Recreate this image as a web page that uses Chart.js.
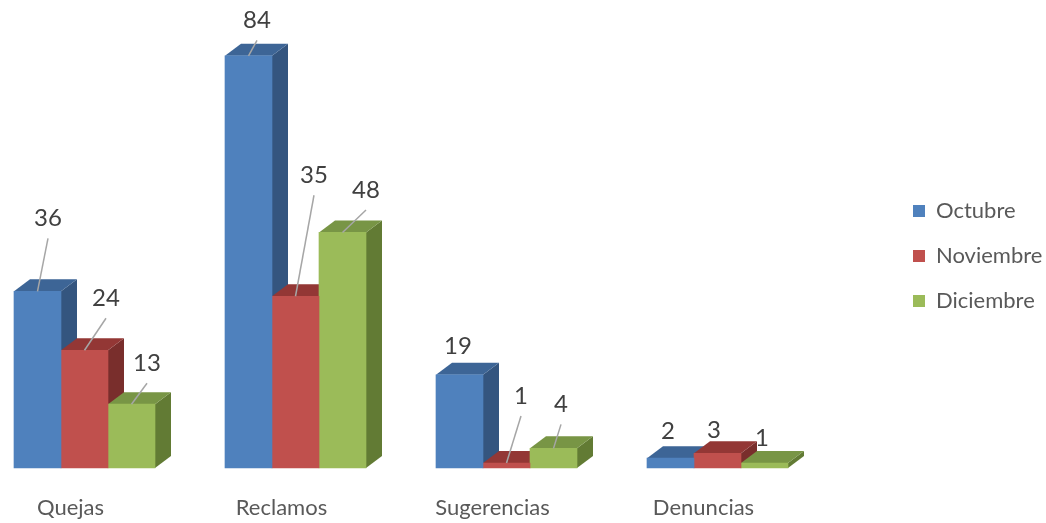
<!DOCTYPE html>
<html>
<head>
<meta charset="utf-8">
<script src="https://cdn.jsdelivr.net/npm/chart.js@4"></script>
<style>
  html, body { margin: 0; padding: 0; background: #ffffff; }
</style>
</head>
<body>
<canvas id="chart" width="1046" height="523"></canvas>
<script>
const categories = ["Quejas", "Reclamos", "Sugerencias", "Denuncias"];
const seriesNames = ["Octubre", "Noviembre", "Diciembre"];
const octubre = [36, 84, 19, 2];
const noviembre = [24, 35, 1, 3];
const diciembre = [13, 48, 4, 1];

// where each value label was dragged to, relative to the top of its bar
const labelOffsets = [
    [[10.5, -73], [8.5, -35.5], [-1.5, -28], [-2.5, -27]],
    [[21.5, -52], [18.5, -121], [14.5, -67], [-3.5, -23]],
    [[15.5, -41], [23.5, -42.5], [7.5, -44], [-2.5, -25]]
];

const frontColors = ["#4F81BD", "#C0504D", "#9BBB59"];
const topColors = ["#3D6596", "#933735", "#789545"];
const sideColors = ["#34557F", "#792E2C", "#627B34"];
const depthX = 16;
const depthY = 12;

Chart.defaults.font.family = "Lato";

const bars3d = {
    id: "bars3d",
    beforeDatasetsDraw(chart) {
        const ctx = chart.ctx;
        const bars = [];
        chart.data.datasets.forEach((ds, i) => {
            chart.getDatasetMeta(i).data.forEach(bar => bars.push({ bar, i }));
        });
        bars.sort((a, b) => a.bar.x - b.bar.x);
        ctx.save();
        for (const { bar, i } of bars) {
            const x1 = bar.x - bar.width / 2;
            const x2 = bar.x + bar.width / 2;
            const y = bar.y;
            const base = bar.base;
            ctx.fillStyle = sideColors[i];
            ctx.beginPath();
            ctx.moveTo(x2, y);
            ctx.lineTo(x2 + depthX, y - depthY);
            ctx.lineTo(x2 + depthX, base - depthY);
            ctx.lineTo(x2, base);
            ctx.closePath();
            ctx.fill();
            ctx.fillStyle = topColors[i];
            ctx.beginPath();
            ctx.moveTo(x1, y);
            ctx.lineTo(x1 + depthX, y - depthY);
            ctx.lineTo(x2 + depthX, y - depthY);
            ctx.lineTo(x2, y);
            ctx.closePath();
            ctx.fill();
        }
        ctx.restore();
    },
    afterDatasetsDraw(chart) {
        const ctx = chart.ctx;
        ctx.save();
        ctx.font = "24px Lato";
        ctx.textAlign = "center";
        ctx.textBaseline = "middle";
        chart.data.datasets.forEach((ds, i) => {
            chart.getDatasetMeta(i).data.forEach((bar, j) => {
                const lx = bar.x + labelOffsets[i][j][0];
                const ly = bar.y + labelOffsets[i][j][1];
                if (bar.y - (ly + 20) > 12) {
                    ctx.strokeStyle = "#A6A6A6";
                    ctx.lineWidth = 1.5;
                    ctx.beginPath();
                    ctx.moveTo(bar.x, bar.y);
                    ctx.lineTo(lx, ly + 20);
                    ctx.stroke();
                }
                ctx.fillStyle = "#404040";
                ctx.fillText(String(ds.data[j]), lx, ly);
            });
        });
        ctx.restore();
    }
};

const seriesValues = [octubre, noviembre, diciembre];

new Chart(document.getElementById("chart"), {
    type: "bar",
    data: {
        labels: categories,
        datasets: seriesNames.map((name, i) => ({
            label: name,
            data: seriesValues[i],
            backgroundColor: frontColors[i],
            borderWidth: 0,
            barThickness: 47,
            clip: false
        }))
    },
    options: {
        responsive: false,
        animation: false,
        layout: { padding: { left: 84.5, top: 44, right: 0, bottom: 0 } },
        scales: {
            x: {
                offset: false,
                grid: { display: false, drawTicks: false },
                border: { display: false },
                ticks: {
                    color: "#595959",
                    font: { size: 22 },
                    padding: 27,
                    labelOffset: -14,
                    maxRotation: 0,
                    autoSkip: false
                },
                afterFit(scale) { scale.height = 55; }
            },
            y: {
                position: "right",
                min: 0,
                max: 86.4,
                grid: { display: false },
                border: { display: false },
                ticks: { display: false },
                afterFit(scale) { scale.width = 172.5; }
            }
        },
        plugins: {
            legend: {
                position: "right",
                fullSize: false,
                maxWidth: 156,
                labels: {
                    boxWidth: 12,
                    boxHeight: 12,
                    padding: 23,
                    color: "#595959",
                    font: { size: 22 }
                }
            },
            tooltip: { enabled: false }
        }
    },
    plugins: [bars3d]
});
</script>
</body>
</html>
